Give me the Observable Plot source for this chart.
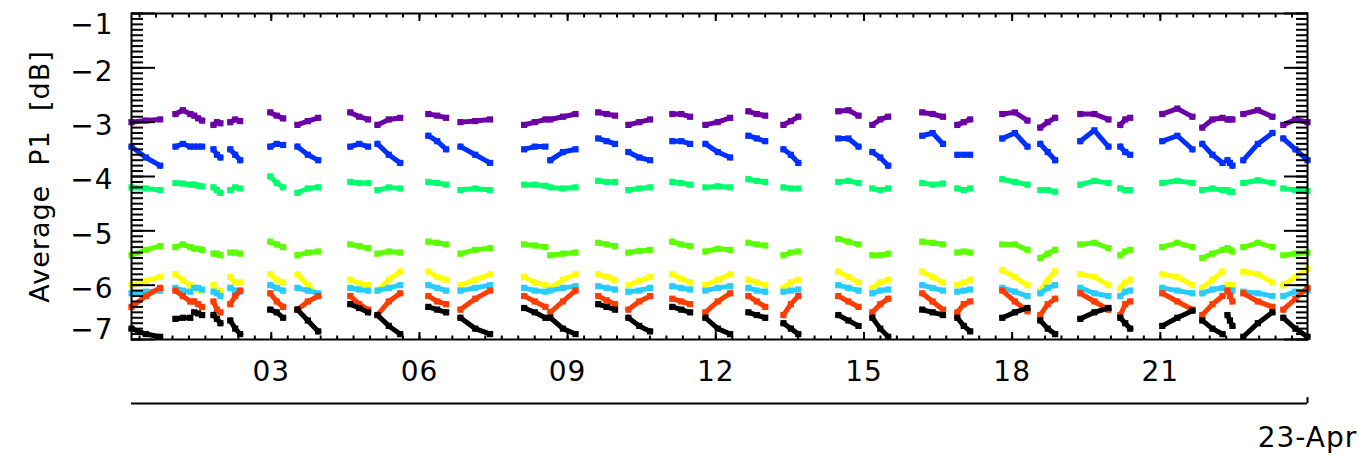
<!DOCTYPE html>
<html>
<head>
<meta charset="utf-8">
<script src="https://cdn.jsdelivr.net/npm/d3@7"></script>
<script src="https://cdn.jsdelivr.net/npm/@observablehq/plot@0.6"></script>
<style>
  html, body { margin: 0; padding: 0; background: #fff; }
  #chart { width: 1366px; height: 462px; overflow: hidden; }
  #chart svg text { letter-spacing: 1px; }
</style>
</head>
<body>
<div id="chart"></div>
<script>
// ---- data (hours of 23-Apr, pass start / end) ----
const passStart = [0.17,1.06,1.44,1.83,2.17,2.98,3.53,4.60,5.15,6.18,6.83,8.12,8.65,9.62,10.23,11.12,11.79,12.66,13.37,14.48,15.17,16.18,16.89,17.80,18.57,19.38,20.19,21.04,21.85,22.36,22.68,23.49];
const passEnd   = [0.75,1.36,1.60,1.97,2.37,3.24,3.95,4.96,5.61,6.54,7.43,8.55,9.16,9.96,10.67,11.48,12.29,13.00,13.67,14.89,15.49,16.60,17.15,18.31,18.87,19.95,20.39,21.65,22.26,22.46,23.27,23.98];

const seriesNames  = ["purple","blue","springgreen","lime","yellow","cyan","red","black"];
const seriesColors = ["#6a00a6","#0030ff","#00ff6e","#5cff00","#ffff00","#28ccff","#ff3c00","#000000"];

const purple = [[-3.0,-2.97,-2.95],[-2.85,-2.78,-2.85],[-2.88,-2.93,-2.97],[-3.05,-3.0,-3.02],[-3.0,-2.95,-2.98],[-2.82,-2.88,-2.93],[-3.05,-2.98,-2.92],[-2.82,-2.9,-2.95],[-3.05,-2.95,-2.92],[-2.85,-2.88,-2.92],[-3.0,-2.98,-2.95],[-3.05,-3.0,-2.95],[-2.95,-2.9,-2.85],[-2.82,-2.85,-2.88],[-3.05,-3.0,-2.95],[-2.85,-2.85,-2.9],[-3.05,-3.0,-2.92],[-2.8,-2.85,-2.88],[-3.05,-2.98,-2.9],[-2.8,-2.78,-2.88],[-3.05,-2.95,-2.9],[-2.82,-2.85,-2.9],[-3.05,-3.0,-2.95],[-2.85,-2.82,-2.97],[-3.1,-3.0,-2.92],[-2.85,-2.85,-2.95],[-3.05,-2.95,-2.92],[-2.85,-2.75,-2.9],[-3.1,-2.95,-2.92],[-2.95,-2.95,-2.95],[-2.85,-2.78,-2.9],[-3.05,-2.95,-3.0]];
const blue = [[-3.45,-3.65,-3.8],[-3.45,-3.4,-3.45],[-3.45,-3.45,-3.45],[-3.5,-3.6,-3.65],[-3.5,-3.6,-3.7],[-3.45,-3.4,-3.42],[-3.45,-3.6,-3.7],[-3.45,-3.4,-3.45],[-3.4,-3.6,-3.75],[-3.25,-3.35,-3.5],[-3.45,-3.6,-3.75],[-3.5,-3.45,-3.45],[-3.7,-3.55,-3.5],[-3.3,-3.35,-3.4],[-3.55,-3.65,-3.7],[-3.35,-3.35,-3.4],[-3.4,-3.55,-3.65],[-3.25,-3.3,-3.35],[-3.5,-3.6,-3.75],[-3.3,-3.3,-3.45],[-3.55,-3.65,-3.8],[-3.25,-3.2,-3.4],[-3.6,-3.6,-3.6],[-3.3,-3.2,-3.45],[-3.4,-3.55,-3.7],[-3.35,-3.15,-3.45],[-3.45,-3.55,-3.6],[-3.35,-3.25,-3.5],[-3.4,-3.6,-3.75],[-3.7,-3.75,-3.8],[-3.7,-3.4,-3.2],[-3.3,-3.5,-3.7]];
const springgreen = [[-4.2,-4.22,-4.25],[-4.12,-4.13,-4.15],[-4.15,-4.17,-4.18],[-4.2,-4.25,-4.3],[-4.25,-4.2,-4.22],[-4.0,-4.12,-4.2],[-4.3,-4.22,-4.2],[-4.1,-4.12,-4.12],[-4.25,-4.2,-4.22],[-4.1,-4.12,-4.15],[-4.25,-4.22,-4.25],[-4.15,-4.15,-4.17],[-4.2,-4.22,-4.2],[-4.08,-4.1,-4.1],[-4.25,-4.22,-4.2],[-4.1,-4.12,-4.15],[-4.2,-4.18,-4.2],[-4.05,-4.08,-4.1],[-4.2,-4.22,-4.22],[-4.1,-4.08,-4.12],[-4.22,-4.25,-4.22],[-4.12,-4.15,-4.13],[-4.22,-4.25,-4.22],[-4.05,-4.1,-4.15],[-4.25,-4.25,-4.28],[-4.15,-4.08,-4.12],[-4.22,-4.25,-4.25],[-4.12,-4.08,-4.12],[-4.25,-4.22,-4.25],[-4.25,-4.28,-4.28],[-4.12,-4.07,-4.12],[-4.22,-4.25,-4.27]];
const lime = [[-5.45,-5.35,-5.28],[-5.3,-5.25,-5.3],[-5.33,-5.33,-5.35],[-5.42,-5.42,-5.45],[-5.4,-5.4,-5.42],[-5.2,-5.25,-5.3],[-5.45,-5.4,-5.38],[-5.25,-5.28,-5.32],[-5.42,-5.38,-5.4],[-5.2,-5.22,-5.25],[-5.42,-5.35,-5.32],[-5.25,-5.27,-5.3],[-5.45,-5.42,-5.4],[-5.22,-5.25,-5.28],[-5.4,-5.37,-5.35],[-5.2,-5.25,-5.28],[-5.38,-5.33,-5.35],[-5.22,-5.25,-5.27],[-5.45,-5.4,-5.38],[-5.15,-5.2,-5.25],[-5.45,-5.45,-5.42],[-5.2,-5.22,-5.25],[-5.4,-5.38,-5.4],[-5.25,-5.25,-5.35],[-5.5,-5.42,-5.35],[-5.25,-5.22,-5.32],[-5.45,-5.38,-5.35],[-5.3,-5.22,-5.3],[-5.5,-5.42,-5.35],[-5.32,-5.35,-5.38],[-5.3,-5.22,-5.3],[-5.45,-5.42,-5.4]];
const yellow = [[-6.0,-5.92,-5.85],[-5.8,-5.9,-6.0],[-6.05,-6.1,-6.1],[-6.0,-6.1,-6.1],[-5.85,-5.95,-5.95],[-5.8,-5.9,-5.95],[-5.8,-6.0,-6.2],[-5.9,-5.97,-6.0],[-6.1,-5.9,-5.75],[-5.75,-5.85,-5.9],[-6.0,-5.9,-5.8],[-5.85,-5.95,-6.0],[-6.05,-5.9,-5.8],[-5.8,-5.85,-5.9],[-6.0,-5.92,-5.85],[-5.8,-5.88,-5.95],[-6.0,-5.9,-5.8],[-5.9,-5.95,-6.0],[-6.05,-5.95,-5.9],[-5.75,-5.85,-5.95],[-6.05,-5.95,-5.9],[-5.75,-5.85,-5.95],[-6.0,-5.95,-5.9],[-5.72,-5.85,-6.0],[-6.1,-5.9,-5.75],[-5.8,-5.85,-6.0],[-6.05,-5.95,-5.9],[-5.8,-5.85,-6.0],[-6.05,-5.9,-5.75],[-6.0,-6.0,-6.0],[-5.75,-5.8,-5.95],[-6.0,-5.85,-5.7]];
const cyan = [[-6.15,-6.12,-6.1],[-6.05,-6.1,-6.12],[-6.05,-6.05,-6.08],[-6.12,-6.15,-6.2],[-6.05,-6.1,-6.12],[-6.0,-6.05,-6.1],[-6.05,-6.1,-6.15],[-6.05,-6.08,-6.1],[-6.1,-6.05,-6.0],[-6.0,-6.05,-6.1],[-6.1,-6.05,-6.0],[-6.05,-6.1,-6.12],[-6.1,-6.05,-6.02],[-6.02,-6.05,-6.08],[-6.12,-6.1,-6.05],[-6.02,-6.05,-6.08],[-6.1,-6.05,-6.02],[-6.05,-6.1,-6.12],[-6.12,-6.1,-6.08],[-6.0,-6.05,-6.1],[-6.15,-6.1,-6.08],[-6.0,-6.05,-6.1],[-6.12,-6.1,-6.08],[-6.05,-6.12,-6.2],[-6.15,-6.05,-6.0],[-6.05,-6.15,-6.2],[-6.2,-6.12,-6.1],[-6.05,-6.1,-6.15],[-6.15,-6.08,-6.05],[-6.1,-6.1,-6.1],[-6.12,-6.15,-6.2],[-6.2,-6.12,-6.1]];
const red = [[-6.4,-6.2,-6.05],[-6.1,-6.2,-6.3],[-6.3,-6.35,-6.4],[-6.3,-6.45,-6.5],[-6.35,-6.2,-6.1],[-6.15,-6.3,-6.4],[-6.45,-6.3,-6.2],[-6.2,-6.35,-6.45],[-6.55,-6.3,-6.15],[-6.2,-6.3,-6.35],[-6.45,-6.25,-6.1],[-6.2,-6.3,-6.4],[-6.5,-6.3,-6.1],[-6.2,-6.28,-6.35],[-6.45,-6.3,-6.2],[-6.25,-6.3,-6.35],[-6.5,-6.3,-6.15],[-6.2,-6.3,-6.4],[-6.55,-6.35,-6.2],[-6.2,-6.3,-6.4],[-6.5,-6.35,-6.25],[-6.15,-6.3,-6.45],[-6.5,-6.35,-6.3],[-6.1,-6.3,-6.48],[-6.55,-6.35,-6.25],[-6.15,-6.3,-6.45],[-6.55,-6.35,-6.3],[-6.15,-6.3,-6.45],[-6.55,-6.35,-6.2],[-6.1,-6.2,-6.3],[-6.15,-6.3,-6.4],[-6.45,-6.25,-6.05]];
const black = [[-6.8,-6.9,-6.95],[-6.62,-6.6,-6.6],[-6.5,-6.52,-6.55],[-6.55,-6.62,-6.7],[-6.65,-6.8,-6.9],[-6.45,-6.5,-6.6],[-6.45,-6.65,-6.85],[-6.35,-6.42,-6.5],[-6.55,-6.75,-6.9],[-6.4,-6.45,-6.5],[-6.6,-6.8,-6.9],[-6.42,-6.5,-6.6],[-6.6,-6.8,-6.9],[-6.35,-6.4,-6.45],[-6.6,-6.75,-6.85],[-6.4,-6.45,-6.5],[-6.6,-6.8,-6.9],[-6.5,-6.55,-6.6],[-6.7,-6.8,-6.9],[-6.55,-6.65,-6.75],[-6.6,-6.8,-6.95],[-6.45,-6.5,-6.55],[-6.6,-6.75,-6.85],[-6.6,-6.5,-6.42],[-6.65,-6.8,-6.9],[-6.62,-6.5,-6.42],[-6.6,-6.7,-6.8],[-6.75,-6.6,-6.47],[-6.65,-6.8,-6.9],[-6.55,-6.65,-6.75],[-6.95,-6.7,-6.5],[-6.6,-6.8,-6.95]];

const xTicks = [3,6,9,12,15,18,21];
const xTickLabels = ["03","06","09","12","15","18","21"];
const yTicks = [-1,-2,-3,-4,-5,-6,-7];
const dateLabel = "23-Apr";
const yTitle = "Average\u00a0\u00a0P1\u00a0\u00a0[dB]";

// ---- layout constants ----
const xDomain = [0.17, 23.98];
const yDomain = [-7, -1];
const dateLineY = -8.18, dateTickTop = -8.07, dateLabelY = -8.82;

const allSeries = [purple, blue, springgreen, lime, yellow, cyan, red, black];
const rows = [];
allSeries.forEach((ser, si) => {
  ser.forEach((vals, ci) => {
    const n = vals.length;
    vals.forEach((v, j) => {
      rows.push({s: seriesNames[si], c: si + "-" + ci,
        t: passStart[ci] + (passEnd[ci] - passStart[ci]) * (n === 1 ? 0.5 : j / (n - 1)), v});
    });
  });
});

const xMinor = d3.range(1/3, 24, 1/3).filter(d => d > xDomain[0] && d < xDomain[1]);
const yMinor = d3.range(-70, -9, 1).map(d => d / 10);
const font = "DejaVu Sans";

const seriesMarks = seriesNames.flatMap((name, i) => {
  const data = rows.filter(r => r.s === name);
  return [
    Plot.line(data, {x: "t", y: "v", z: "c", stroke: seriesColors[i], strokeWidth: 5, strokeLinecap: "square", strokeLinejoin: "miter"}),
    Plot.dot(data, {x: "t", y: "v", symbol: "square", r: 3.5, fill: seriesColors[i], stroke: "none"})
  ];
});

const tickOpts = {fill: "none", stroke: "black", strokeWidth: 2, label: null};
const chart = Plot.plot({
  width: 1366, height: 462,
  marginLeft: 131, marginRight: 59, marginTop: 13, marginBottom: 123,
  x: {domain: xDomain, label: null},
  y: {domain: yDomain, label: null},
  style: {fontFamily: font, fontSize: "28px", color: "black", background: "white", overflow: "visible"},
  marks: [
    ...seriesMarks,
    Plot.frame({stroke: "black", strokeWidth: 2}),
    // x ticks (inward)
    Plot.axisX(xTicks, {anchor: "bottom", tickSize: -7, ...tickOpts}),
    Plot.axisX(xTicks, {anchor: "top", tickSize: -7, ...tickOpts}),
    Plot.axisX(xMinor, {anchor: "bottom", tickSize: -3.5, ...tickOpts}),
    Plot.axisX(xMinor, {anchor: "top", tickSize: -3.5, ...tickOpts}),
    // y ticks (inward)
    Plot.axisY(yTicks, {anchor: "left", tickSize: -24, ...tickOpts}),
    Plot.axisY(yTicks, {anchor: "right", tickSize: -24, ...tickOpts}),
    Plot.axisY(yMinor, {anchor: "left", tickSize: -12, ...tickOpts}),
    Plot.axisY(yMinor, {anchor: "right", tickSize: -12, ...tickOpts}),
    // tick labels
    Plot.axisX(xTicks, {anchor: "bottom", tickSize: 0, tickPadding: 22, stroke: "none", fill: "black", fontSize: 28, label: null,
      tickFormat: d => xTickLabels[xTicks.indexOf(d)]}),
    Plot.axisY(yTicks.slice(1, -1), {anchor: "left", tickSize: 0, tickPadding: 18, stroke: "none", fill: "black", fontSize: 28, label: null, dy: 4,
      tickFormat: d => "\u2212" + Math.abs(d)}),
    Plot.axisY([yTicks[0]], {anchor: "left", tickSize: 0, tickPadding: 18, stroke: "none", fill: "black", fontSize: 28, label: null, dy: 12,
      tickFormat: d => "\u2212" + Math.abs(d)}),
    Plot.axisY([yTicks[yTicks.length - 1]], {anchor: "left", tickSize: 0, tickPadding: 18, stroke: "none", fill: "black", fontSize: 28, label: null, dy: -9,
      tickFormat: d => "\u2212" + Math.abs(d)}),
    // y title
    Plot.text([yTitle], {frameAnchor: "left", textAnchor: "middle", rotate: -90, dx: -91, fontSize: 27, fill: "black", fontFamily: font}),
    // date axis
    Plot.ruleY([dateLineY], {x1: xDomain[0], x2: xDomain[1], stroke: "black", strokeWidth: 2}),
    Plot.ruleX([xDomain[1]], {y1: dateLineY, y2: dateTickTop, stroke: "black", strokeWidth: 2}),
    Plot.text([dateLabel], {x: xDomain[1], y: dateLabelY, fontSize: 28, fill: "black", fontFamily: font, textAnchor: "middle"})
  ]
});
document.getElementById("chart").appendChild(chart);
</script>
</body>
</html>
